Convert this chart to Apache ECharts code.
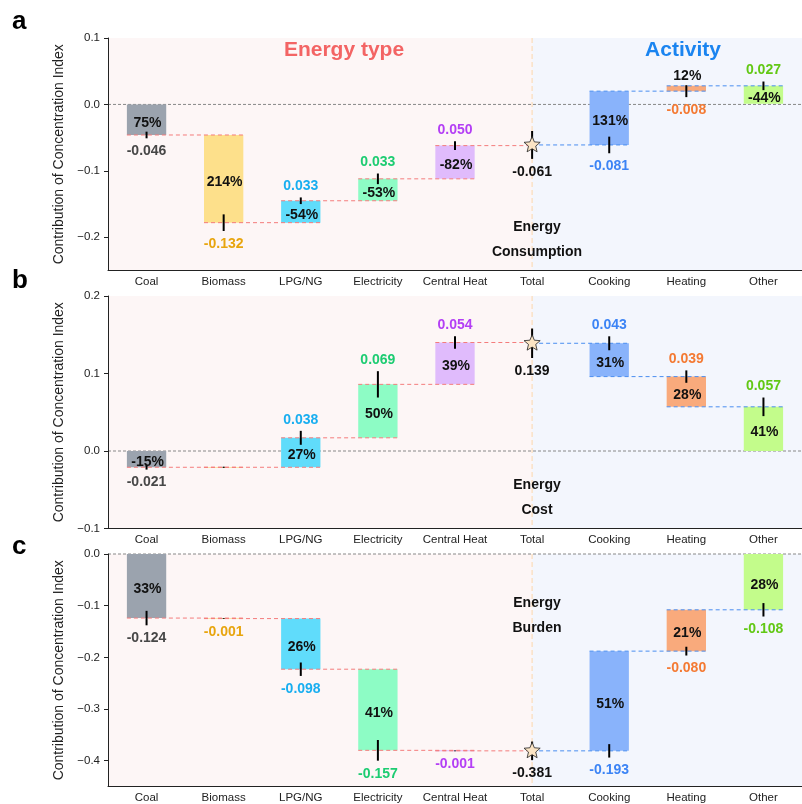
<!DOCTYPE html>
<html><head><meta charset="utf-8">
<script src="https://cdn.jsdelivr.net/npm/echarts@6/dist/echarts.min.js"></script>
<style>html,body{margin:0;padding:0;background:#fff}#c{width:802px;height:804px}</style>
</head><body><div id="c"></div>
<script>
// ---------- data ----------
const categories = ['Coal', 'Biomass', 'LPG/NG', 'Electricity', 'Central Heat', 'Total', 'Cooking', 'Heating', 'Other'];

const consumptionValues = [-0.046, -0.132, 0.033, 0.033, 0.050, -0.061, -0.081, -0.008, 0.027];
const consumptionShares = ['75%', '214%', '-54%', '-53%', '-82%', '', '131%', '12%', '-44%'];
const consumptionErr    = [0.005, 0.0125, 0.005, 0.008, 0.0065, 0.021, 0.0125, 0.009, 0.0065];
const consumptionTicks  = [-0.2, -0.1, 0.0, 0.1];

const costValues = [-0.021, 0.000, 0.038, 0.069, 0.054, 0.139, 0.043, 0.039, 0.057];
const costShares = ['-15%', '', '27%', '50%', '39%', '', '31%', '28%', '41%'];
const costErr    = [0.003, 0.0008, 0.009, 0.017, 0.008, 0.019, 0.009, 0.008, 0.012];
const costTicks  = [-0.1, 0.0, 0.1, 0.2];

const burdenValues = [-0.124, -0.001, -0.098, -0.157, -0.001, -0.381, -0.193, -0.080, -0.108];
const burdenShares = ['33%', '', '26%', '41%', '', '', '51%', '21%', '28%'];
const burdenErr    = [0.014, 0.0008, 0.013, 0.020, 0.0008, 0.018, 0.013, 0.0085, 0.013];
const burdenTicks  = [-0.4, -0.3, -0.2, -0.1, 0.0];

// ---------- styles ----------
const barColors   = ['#9ba3ae', '#fde08b', '#60dcfb', '#8dfcc5', '#e0bbfc', null, '#89b3fb', '#f9aa7c', '#c3fc8b'];
const labelColors = ['#474747', '#e8a50e', '#18aef0', '#1dcc72', '#b43ff5', '#111111', '#3c84f5', '#f47a33', '#62c814'];
const FONT = '"Liberation Sans", Arial, Helvetica, sans-serif';
const totalIdx = categories.indexOf('Total');

const panels = [
  { values: consumptionValues, shares: consumptionShares, err: consumptionErr, ticks: consumptionTicks, min: -0.25, max: 0.1, top: 38 },
  { values: costValues, shares: costShares, err: costErr, ticks: costTicks, min: -0.1, max: 0.2, top: 296 },
  { values: burdenValues, shares: burdenShares, err: burdenErr, ticks: burdenTicks, min: -0.45, max: 0.0, top: 554 }
];
const GRID_H = 232.5;

// waterfall rows: [index, start, end, errLow, errHigh, value, panel]
function buildRows(values, err, p) {
  const rows = [];
  let level = 0;
  for (let i = 0; i < values.length; i++) {
    const v = values[i];
    let start, end, anchor;
    if (i < totalIdx) { start = level; end = level + v; level = end; anchor = end; }
    else if (i === totalIdx) { start = v; end = v; level = v; anchor = v; }
    else { start = level; end = level - v; level = end; anchor = start; }
    rows.push([i, start, end, anchor - err[i], anchor + err[i], v, p]);
  }
  return rows;
}

function starPoints(cx, cy, R, r) {
  const pts = [];
  for (let k = 0; k < 10; k++) {
    const a = -Math.PI / 2 + k * Math.PI / 5;
    const rad = k % 2 === 0 ? R : r;
    pts.push([cx + rad * Math.cos(a), cy + rad * Math.sin(a)]);
  }
  return pts;
}

function renderMain(params, api) {
  const i = api.value(0), s = api.value(1), e = api.value(2);
  const lo = api.value(3), hi = api.value(4), v = api.value(5), p = api.value(6);
  const share = panels[p].shares[i];
  const band = api.size([1, 0])[0];
  const barW = band * 0.51;
  const cs = api.coord([i, s]);
  const ce = api.coord([i, e]);
  const x = cs[0];
  const children = [];
  const barTop = Math.min(cs[1], ce[1]);
  const barBot = Math.max(cs[1], ce[1]);
  if (i !== totalIdx) {
    children.push({ type: 'rect', z2: 1,
      shape: { x: x - barW / 2, y: barTop, width: barW, height: Math.max(barBot - barTop, 0.8) },
      style: { fill: barColors[i] } });
  }
  // connector
  if (i < categories.length - 1) {
    const nx = api.coord([i + 1, e])[0];
    const x1 = i === totalIdx ? x : x - barW / 2;
    const x2 = (i + 1 === totalIdx) ? nx : nx + barW / 2;
    children.push({ type: 'line', z2: 3,
      shape: { x1: x1, y1: ce[1], x2: x2, y2: ce[1] },
      style: { stroke: i < totalIdx ? '#f47c7c' : '#4a8ef0', lineWidth: 1, lineDash: [4, 3] } });
  }
  // error bar
  const pLo = api.coord([i, lo]), pHi = api.coord([i, hi]);
  children.push({ type: 'line', z2: 5,
    shape: { x1: x, y1: pLo[1], x2: x, y2: pHi[1] },
    style: { stroke: '#000', lineWidth: 2 } });
  if (i === totalIdx) {
    children.push({ type: 'polygon', z2: 6,
      shape: { points: starPoints(x, ce[1], 8.5, 3.8) },
      style: { fill: '#fbe4c4', stroke: '#222', lineWidth: 0.8 } });
  }
  const errTop = Math.min(pLo[1], pHi[1]), errBot = Math.max(pLo[1], pHi[1]);
  // value label
  if (Math.abs(v) >= 0.0005) {
    let ly;
    if (i === totalIdx || v < 0) ly = Math.max(barBot, errBot) + 13;
    else ly = Math.min(barTop, errTop) - 11;
    children.push({ type: 'text', z2: 8,
      style: { text: v.toFixed(3), x: x, y: ly, fill: labelColors[i], font: 'bold 14px ' + FONT, align: 'center', verticalAlign: 'middle' } });
  }
  if (share) {
    let py;
    if (barBot - barTop >= 12) py = (barTop + barBot) / 2 + 3;
    else py = Math.min(barTop, errTop) - 9;
    children.push({ type: 'text', z2: 8,
      style: { text: share, x: x + 1, y: py, fill: '#111', font: 'bold 14px ' + FONT, align: 'center', verticalAlign: 'middle' } });
  }
  return { type: 'group', children: children };
}

function renderBg(params, api) {
  const cs = params.coordSys;
  const tx = api.coord([totalIdx, 0])[0];
  const zy = api.coord([0, 0])[1];
  return { type: 'group', children: [
    { type: 'rect', z2: 0, shape: { x: cs.x, y: cs.y, width: tx - cs.x, height: cs.height }, style: { fill: '#fdf6f6' } },
    { type: 'rect', z2: 0, shape: { x: tx, y: cs.y, width: cs.x + cs.width - tx, height: cs.height }, style: { fill: '#f3f6fd' } },
    { type: 'line', z2: 1, shape: { x1: tx, y1: cs.y, x2: tx, y2: cs.y + cs.height }, style: { stroke: '#fbdcba', lineWidth: 1.2, lineDash: [5, 3] } },
    { type: 'line', z2: 2, shape: { x1: cs.x, y1: zy, x2: cs.x + cs.width, y2: zy }, style: { stroke: '#888', lineWidth: 1, lineDash: [3, 2] } }
  ] };
}

const grids = [], xAxes = [], yAxes = [], series = [];
panels.forEach((pn, k) => {
  grids.push({ left: 108, right: -9, top: pn.top, height: GRID_H, containLabel: false });
  xAxes.push({ type: 'category', gridIndex: k, data: categories, z: 10, position: 'bottom',
    axisLine: { onZero: false, lineStyle: { color: '#222', width: 1 } },
    axisTick: { alignWithLabel: true, length: 4, lineStyle: { color: '#222' } },
    axisLabel: { color: '#222', fontSize: 11.5, margin: 5, fontFamily: FONT, interval: 0 } });
  yAxes.push({ type: 'value', gridIndex: k, min: pn.min, max: pn.max, z: 10,
    splitLine: { show: false },
    axisLine: { show: true, lineStyle: { color: '#222', width: 1 } },
    axisTick: { show: true, length: 4, customValues: pn.ticks, lineStyle: { color: '#222' } },
    axisLabel: { customValues: pn.ticks, color: '#222', fontSize: 11.5, margin: 8, fontFamily: FONT,
      formatter: v => (Math.abs(v) < 1e-9 ? '0.0' : v.toFixed(1).replace('-', '\u2212')) },
    name: 'Contribution of Concentration Index', nameLocation: 'middle', nameGap: 37,
    nameTextStyle: { fontSize: 14, color: '#222', fontFamily: FONT } });
  series.push({ type: 'custom', xAxisIndex: k, yAxisIndex: k, z: 1, silent: true,
    renderItem: renderBg, data: [[0, 0]] });
  series.push({ type: 'custom', xAxisIndex: k, yAxisIndex: k, z: 3, silent: true,
    renderItem: renderMain, data: buildRows(pn.values, pn.err, k),
    encode: { x: 0, y: [1, 2] } });
});

const notes = [['Energy', 'Consumption', 227, 252], ['Energy', 'Cost', 485, 510], ['Energy', 'Burden', 603, 628]];
const graphic = [
  { type: 'text', left: 12, top: 9, style: { text: 'a', font: 'bold 26px ' + FONT, fill: '#000' }, z: 20 },
  { type: 'text', left: 12, top: 268, style: { text: 'b', font: 'bold 26px ' + FONT, fill: '#000' }, z: 20 },
  { type: 'text', left: 12, top: 534, style: { text: 'c', font: 'bold 26px ' + FONT, fill: '#000' }, z: 20 },
  { type: 'text', x: 344, y: 50, style: { text: 'Energy type', font: 'bold 21px ' + FONT, fill: '#f36464', align: 'center', verticalAlign: 'middle' }, z: 20 },
  { type: 'text', x: 683, y: 50, style: { text: 'Activity', font: 'bold 21px ' + FONT, fill: '#1a84f0', align: 'center', verticalAlign: 'middle' }, z: 20 }
];
notes.forEach(n => {
  graphic.push({ type: 'text', x: 537, y: n[2], style: { text: n[0], font: 'bold 14px ' + FONT, fill: '#111', align: 'center', verticalAlign: 'middle' }, z: 20 });
  graphic.push({ type: 'text', x: 537, y: n[3], style: { text: n[1], font: 'bold 14px ' + FONT, fill: '#111', align: 'center', verticalAlign: 'middle' }, z: 20 });
});

const chart = echarts.init(document.getElementById('c'), null, { renderer: 'canvas', width: 802, height: 804 });
chart.setOption({
  animation: false,
  backgroundColor: '#ffffff',
  textStyle: { fontFamily: FONT },
  grid: grids, xAxis: xAxes, yAxis: yAxes, series: series, graphic: graphic
});
</script>
</body></html>
